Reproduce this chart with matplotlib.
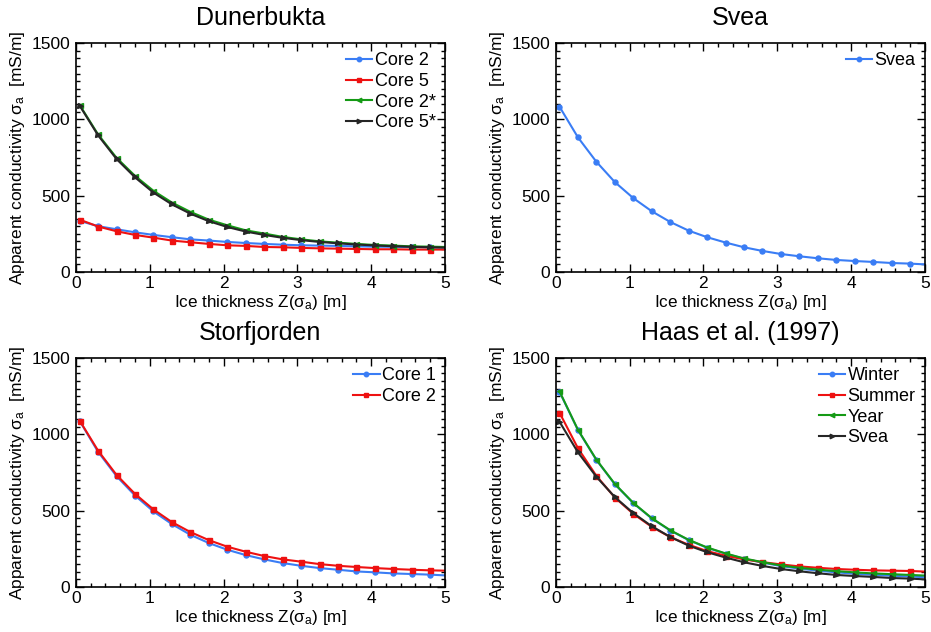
import matplotlib
matplotlib.use("Agg")
import matplotlib.pyplot as plt
from matplotlib.ticker import MultipleLocator

plt.rcParams["font.family"] = ["Liberation Sans", "DejaVu Sans"]
plt.rcParams["mathtext.fontset"] = "custom"
plt.rcParams["mathtext.rm"] = "Liberation Sans"
plt.rcParams["mathtext.it"] = "Liberation Sans"

# ice thickness (m); markers are drawn at all but the last point
thick = [0.05, 0.30, 0.55, 0.80, 1.05, 1.30, 1.55, 1.80, 2.05, 2.30, 2.55,
         2.80, 3.05, 3.30, 3.55, 3.80, 4.05, 4.30, 4.55, 4.80, 5.00]

# Dunerbukta
dun_core2 = [335, 300, 280, 260, 243, 228, 214, 206, 197, 190, 184,
             179, 175, 173, 171, 168, 166, 165, 163, 162, 160]
dun_core5 = [343, 298, 267, 243, 225, 206, 195, 184, 175, 171, 164,
             162, 158, 155, 153, 151, 149, 149, 147, 147, 147]
dun_core2s = [1094, 901, 748, 630, 532, 455, 394, 343, 306, 273, 252,
              230, 214, 201, 192, 184, 177, 173, 168, 166, 164]
dun_core5s = [1090, 895, 740, 620, 520, 443, 382, 333, 295, 265, 243,
              224, 209, 197, 188, 180, 174, 169, 165, 162, 160]

# Svea
svea = [1083, 882, 722, 589, 484, 398, 328, 271, 228, 193, 162,
        138, 118, 103, 90, 79, 72, 66, 59, 55, 50]

# Storfjorden
sto_core1 = [1088, 885, 726, 599, 495, 412, 342, 288, 244, 209, 181,
             157, 139, 124, 113, 102, 96, 89, 85, 81, 76]
sto_core2 = [1090, 893, 734, 610, 508, 425, 360, 307, 264, 231, 203,
             181, 166, 150, 139, 131, 124, 118, 113, 109, 107]

# Haas et al. (1997)
haas_winter = [1279, 1028, 832, 673, 549, 449, 370, 307, 257, 218, 185,
               160, 137, 120, 107, 96, 87, 80, 74, 69, 64]
haas_summer = [1142, 909, 728, 586, 479, 394, 327, 277, 235, 205, 181,
               163, 148, 135, 126, 118, 113, 109, 107, 105, 101]
haas_year = [1282, 1030, 834, 675, 551, 451, 372, 309, 259, 220, 187,
             163, 141, 126, 114, 104, 96, 89, 84, 79, 75]

blue = "#3a7df5"
red = "#ee1111"
green = "#159a15"
black = "#262626"

panels = [
    ("Dunerbukta", [("Core 2", dun_core2, blue, "o"),
                    ("Core 5", dun_core5, red, "s"),
                    ("Core 2*", dun_core2s, green, "<"),
                    ("Core 5*", dun_core5s, black, ">")]),
    ("Svea", [("Svea", svea, blue, "o")]),
    ("Storfjorden", [("Core 1", sto_core1, blue, "o"),
                     ("Core 2", sto_core2, red, "s")]),
    ("Haas et al. (1997)", [("Winter", haas_winter, blue, "o"),
                            ("Summer", haas_summer, red, "s"),
                            ("Year", haas_year, green, "<"),
                            ("Svea", svea, black, ">")]),
]

fig = plt.figure(figsize=(9.31, 6.32), dpi=100)
lefts = [0.0816, 0.597]
bottoms = [0.5696, 0.0712]
w, h = 0.3964, 0.3623

for i, (title, series) in enumerate(panels):
    ax = fig.add_axes([lefts[i % 2], bottoms[i // 2], w, h])
    for label, vals, col, mk in series:
        ax.plot(thick, vals, color=col, marker=mk, markersize=3.6, lw=1.5,
                markevery=list(range(len(thick) - 1)), label=label)
    ax.set_xlim(0, 5)
    ax.set_ylim(0, 1500)
    ax.xaxis.set_major_locator(MultipleLocator(1))
    ax.xaxis.set_minor_locator(MultipleLocator(0.2))
    ax.yaxis.set_major_locator(MultipleLocator(500))
    ax.yaxis.set_minor_locator(MultipleLocator(50))
    ax.tick_params(which="both", direction="in", top=True, right=True,
                   labelsize=12.5)
    ax.tick_params(axis="x", pad=3)
    ax.tick_params(axis="y", pad=4)
    ax.tick_params(which="major", length=6, width=1)
    ax.tick_params(which="minor", length=3, width=1)
    for s in ax.spines.values():
        s.set_linewidth(1.2)
    ax.set_title(title, fontsize=18, pad=13)
    ax.set_xlabel(r"Ice thickness Z($\sigma_a$) [m]", fontsize=12.3, labelpad=1)
    ax.set_ylabel(r"Apparent conductivity $\sigma_a$  [mS/m]", fontsize=12.5, labelpad=3)
    ax.legend(loc="upper right", frameon=False, fontsize=13, handlelength=1.45,
              handletextpad=0.12, labelspacing=0.2, borderaxespad=0.12,
              markerscale=0.9)

fig.savefig("out.png", dpi=100)
